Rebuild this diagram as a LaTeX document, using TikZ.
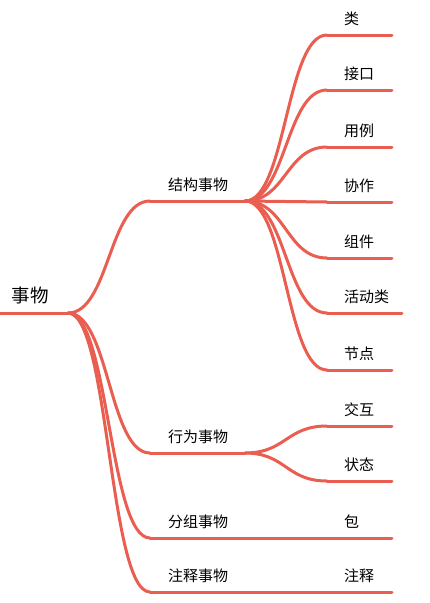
\documentclass[tikz,border=0pt]{standalone}
\usepackage{fontspec}
\newfontfamily\cjk{Noto Sans CJK SC}
\usepackage{tikz}
\definecolor{mindred}{RGB}{233,94,80}

\begin{document}
\begin{tikzpicture}[line cap=round,line join=round,x=1pt,y=-1pt,
  branch/.style={draw=mindred,line width=3pt},
  topic/.style={anchor=south west,inner ysep=0pt,outer sep=0pt,text depth=10.5pt,
    align=left,text=black,font=\cjk\fontsize{15}{18}\selectfont},
  root/.style={topic,inner xsep=12pt,text width=44pt,
    font=\cjk\fontsize{18.5}{22}\selectfont},
  mid/.style={topic,inner xsep=18pt,text width=59pt},
  leaf/.style={topic,inner xsep=17pt,text width=31pt}]
  \useasboundingbox (0,0) rectangle (429,603);
  \node[root] (things) at (0,313) {事物};
  \node[mid] (structural) at (150,201) {结构事物};
  \node[mid] (behavioral) at (150,453) {行为事物};
  \node[mid] (grouping) at (150,538) {分组事物};
  \node[mid] (annotational) at (150,592) {注释事物};
  \node[leaf] (class) at (327,35) {类};
  \node[leaf] (interface) at (327,90) {接口};
  \node[leaf] (usecase) at (327,147) {用例};
  \node[leaf] (collab) at (327,202) {协作};
  \node[leaf] (component) at (327,258) {组件};
  \node[leaf,text width=41pt] (activeclass) at (327,313) {活动类};
  \node[leaf] (nodeleaf) at (327,370) {节点};
  \node[leaf] (interaction) at (327,426) {交互};
  \node[leaf] (statemachine) at (327,481) {状态};
  \node[leaf] (package) at (327,538) {包};
  \node[leaf] (note) at (327,592) {注释};
  \foreach \n in {things,structural,behavioral,grouping,annotational,class,
    interface,usecase,collab,component,activeclass,nodeleaf,interaction,
    statemachine,package,note}
  \draw[branch] (\n.south west) -- (\n.south east);
  \foreach \n in {structural,behavioral,grouping,annotational}
  \draw[branch] (things.south east) .. controls +(41,0) and +(-41,0) .. (\n.south west);
  \foreach \n in {class,interface,usecase,collab,component,activeclass,nodeleaf}
  \draw[branch] (structural.south east) .. controls +(41,0) and +(-41,0) .. (\n.south west);
  \foreach \n in {interaction,statemachine}
  \draw[branch] (behavioral.south east) .. controls +(41,0) and +(-41,0) .. (\n.south west);
  \draw[branch] (grouping.south east) -- (package.south west);
  \draw[branch] (annotational.south east) -- (note.south west);
\end{tikzpicture}
\end{document}
